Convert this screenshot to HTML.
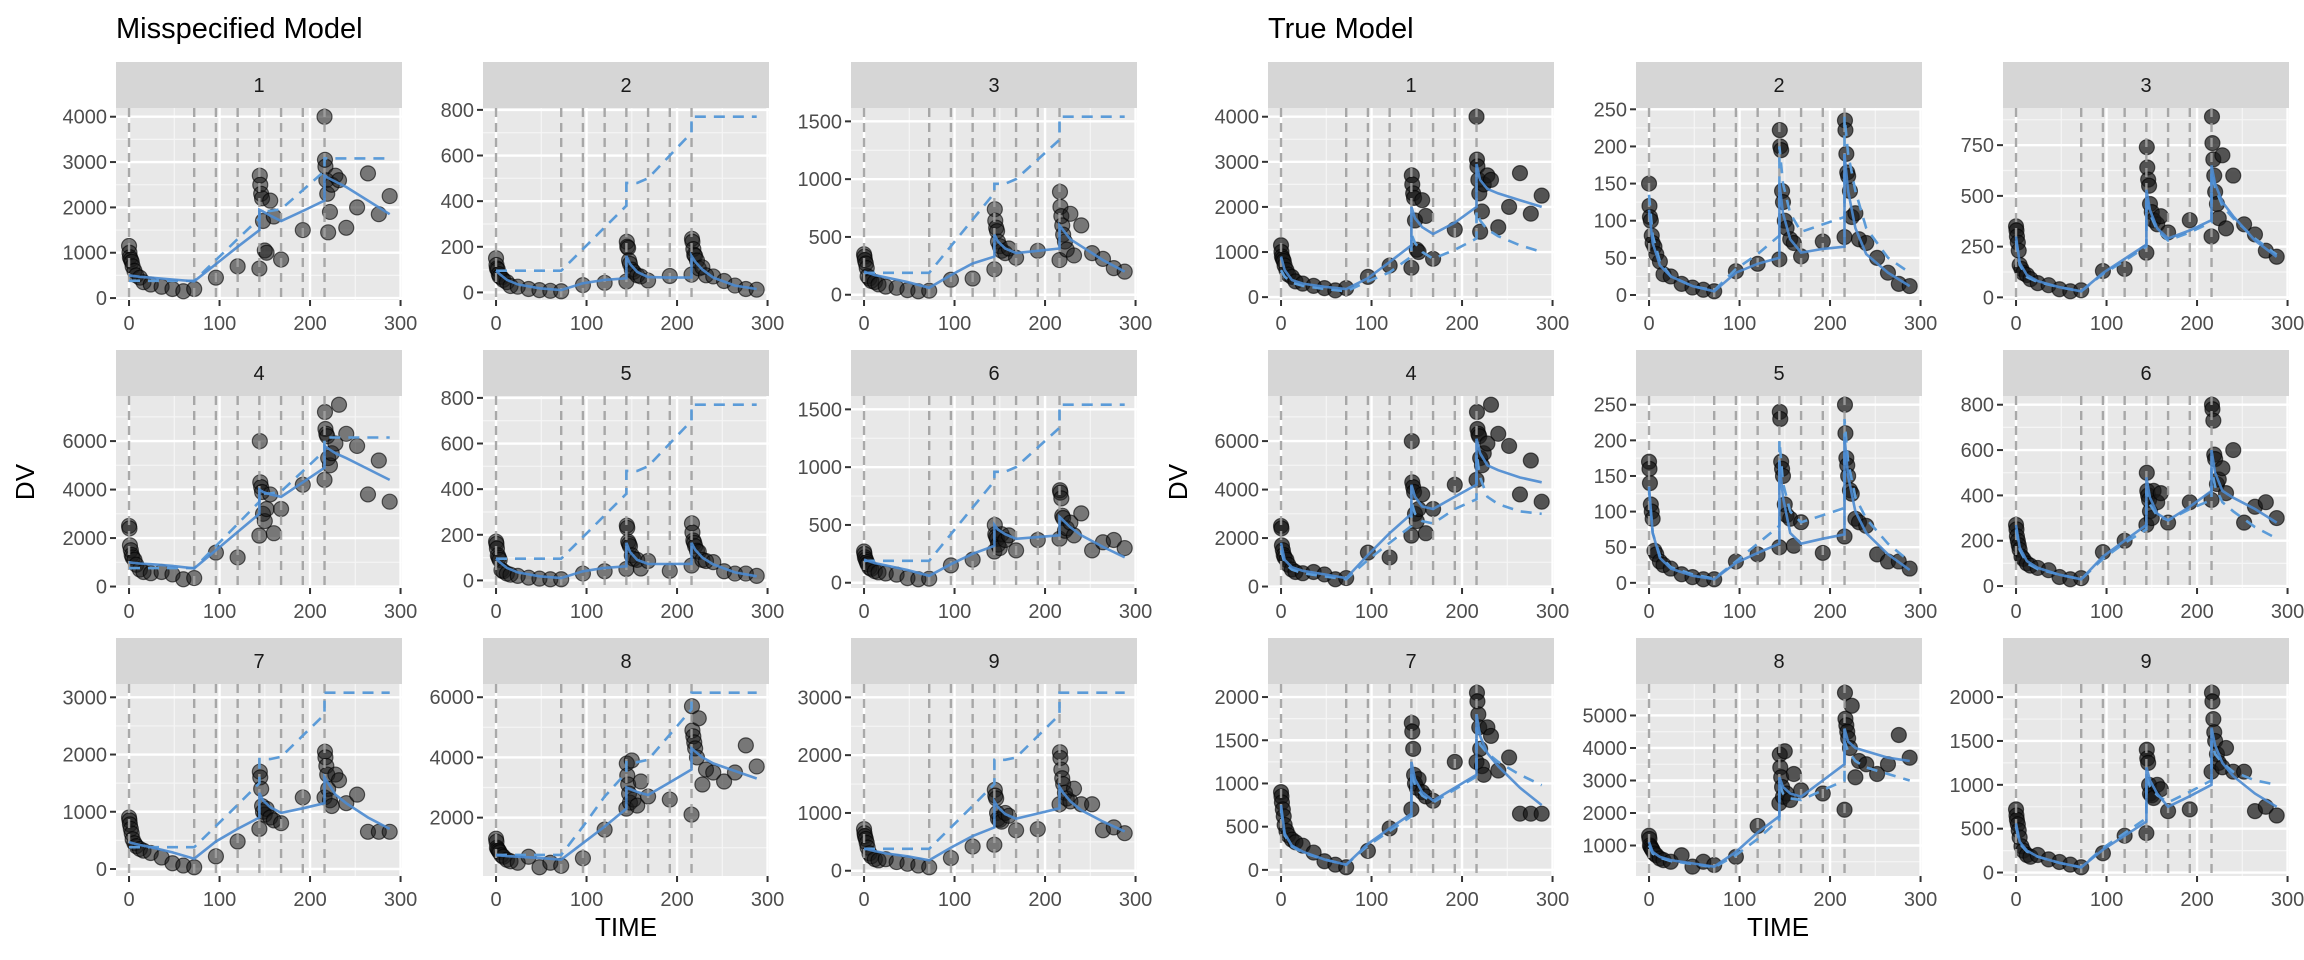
<!DOCTYPE html>
<html><head><meta charset="utf-8"><style>
html,body{margin:0;padding:0;background:#fff;}
svg{display:block;font-family:"Liberation Sans",Arial,sans-serif;}
</style></head><body>
<svg id="chart" width="2304" height="960" viewBox="0 0 2304 960" xmlns="http://www.w3.org/2000/svg">
<rect x="0" y="0" width="2304" height="960" fill="#ffffff"/>
<text x="116" y="38" font-size="29" fill="#000">Misspecified Model</text>
<text x="1268" y="38" font-size="29" fill="#000">True Model</text>
<text x="0" y="0" font-size="26" fill="#000" text-anchor="middle" transform="translate(34,482) rotate(-90)">DV</text>
<text x="0" y="0" font-size="26" fill="#000" text-anchor="middle" transform="translate(1187,482) rotate(-90)">DV</text>
<text x="626" y="936" font-size="26" fill="#000" text-anchor="middle">TIME</text>
<text x="1778" y="936" font-size="26" fill="#000" text-anchor="middle">TIME</text>
</svg>
<script>
const times = [0,0.5,1,2,3,4,6,8,12,16,24,36,48,60,72,96,120,144,144.5,145,146,147,148,150,152,156,160,168,192,216,216.5,217,218,219,220,222,224,228,232,240,252,264,276,288];
const doseTimes = [0,72,96,120,144,168,192,216];
const lineTimes = [0,4,12,24,48,72,96,120,144,144,148,156,168,192,216,216,220,228,240,264,288];
const xTicks = [0,100,200,300];
const xMinor = [50,150,250];

const dv1 = [1150,1000,900,850,800,700,600,500,450,350,300,250,200,150,200,450,700,650,2700,2500,2300,2200,1700,1050,1000,2150,1800,850,1500,4000,3050,2900,2600,2300,1450,1900,2500,2700,2600,1550,2000,2750,1850,2250];
const dv2 = [150,120,105,100,80,70,65,55,45,28,25,15,10,7,5,32,42,48,222,200,195,140,125,100,90,75,70,52,72,78,235,222,190,165,160,140,105,110,75,70,50,30,15,12];
const dv3 = [350,330,300,270,230,160,140,120,110,90,70,60,40,30,35,130,140,220,740,640,580,550,460,420,380,360,400,320,380,300,890,760,680,600,520,460,390,700,340,600,360,310,230,200];
const dv4 = [2500,2400,1700,1500,1300,1200,1100,900,700,600,550,600,500,300,350,1400,1200,2100,6000,4300,4100,3900,3000,2700,3200,3800,2200,3200,4200,4400,7200,6500,6300,6200,5300,5000,5500,5900,7500,6300,5800,3800,5200,3500];
const dv5 = [170,160,140,110,100,90,45,40,30,25,20,12,8,5,5,30,40,50,240,230,170,160,150,110,95,90,52,85,42,65,250,210,175,165,150,130,125,90,85,80,40,30,30,20];
const dv6 = [270,250,220,200,180,160,130,120,100,90,80,70,40,30,35,150,200,270,500,420,400,380,330,300,420,370,410,280,370,380,800,780,730,580,560,450,470,520,410,600,280,350,370,300];
const dv7 = [900,850,780,700,620,520,450,400,350,320,280,200,100,60,30,220,480,700,1700,1600,1400,1100,1000,950,1050,900,850,800,1250,1250,2050,1950,1800,1650,1400,1200,1100,1650,1550,1150,1300,650,650,650];
const dv8 = [1300,1200,1000,950,900,850,750,700,600,550,500,700,350,500,400,650,1600,2300,3800,3400,3100,2800,2500,3900,2600,2400,3200,2700,2600,2100,5700,4900,4700,4500,4300,4000,5300,3100,3600,3500,3200,3500,4400,3700];
const dv9 = [720,650,600,550,480,400,300,250,200,180,200,150,120,90,60,220,420,450,1400,1300,1250,1000,900,880,850,1000,950,700,720,1150,2050,1950,1750,1600,1500,1350,1250,1200,1420,1150,1150,700,750,650];

const misIpred1 = [500,490,470,450,410,370,750,1130,1500,1950,1910,1820,1700,1920,2150,2700,2650,2570,2450,2150,1850];
const misIpred2 = [95,80,55,35,18,10,40,55,62,160,125,90,67,65,66,160,135,100,65,30,15];
const misIpred3 = [200,190,170,150,110,60,170,270,330,520,460,400,360,380,400,600,560,480,420,300,200];
const misIpred4 = [1000,980,950,920,850,750,1500,2250,3000,4000,3900,3800,3700,4300,4900,5800,5700,5500,5300,4850,4400];
const misIpred5 = [95,80,55,35,18,10,40,55,62,165,125,90,72,72,73,165,135,100,70,35,18];
const misIpred6 = [200,190,170,150,110,60,160,250,320,500,460,420,380,395,410,570,540,480,410,310,220];
const misIpred7 = [470,450,420,380,290,180,480,700,900,1330,1200,1080,980,1060,1150,1600,1500,1300,1150,900,700];
const misIpred8 = [750,740,720,700,660,600,1150,1700,2300,3000,2950,2850,2750,3170,3600,4300,4200,4000,3800,3550,3300];
const misIpred9 = [380,370,340,300,250,180,400,600,750,1200,1100,980,900,990,1080,1450,1350,1200,1050,850,680];

const misPred1 = [380,380,380,380,380,380,840,1300,1760,1920,1920,1920,1960,2380,2800,3080,3080,3080,3080,3080,3080];
const misPred2 = [95,95,95,95,95,95,190,285,380,480,480,480,500,600,700,770,770,770,770,770,770];
const misPred3 = [190,190,190,190,190,190,420,650,880,960,960,960,1000,1170,1340,1540,1540,1540,1540,1540,1540];
const misPred4 = [760,760,760,760,760,760,1670,2580,3500,3840,3840,3840,3920,4760,5600,6150,6150,6150,6150,6150,6150];
const misPred5 = [95,95,95,95,95,95,190,285,380,480,480,480,500,600,700,770,770,770,770,770,770];
const misPred6 = [190,190,190,190,190,190,420,650,880,960,960,960,1000,1170,1340,1540,1540,1540,1540,1540,1540];
const misPred7 = [380,380,380,380,380,380,750,1120,1500,1920,1920,1920,1960,2330,2700,3080,3080,3080,3080,3080,3080];
const misPred8 = [760,760,760,760,760,760,1700,2700,3500,3840,3840,3840,3920,4760,5600,6150,6150,6150,6150,6150,6150];
const misPred9 = [380,380,380,380,380,380,750,1120,1500,1920,1920,1920,1960,2330,2700,3080,3080,3080,3080,3080,3080];

const trueIpred1 = [900,600,380,300,230,180,420,780,1150,2000,1750,1550,1400,1650,2000,2950,2600,2400,2300,2150,2000];
const trueIpred2 = [115,70,40,25,12,5,30,42,50,150,110,75,57,62,65,190,140,90,55,30,12];
const trueIpred3 = [300,170,110,80,50,30,120,190,260,530,430,340,290,330,380,650,560,470,400,280,200];
const trueIpred4 = [1800,1100,800,650,500,350,1300,2200,3000,4200,3700,3300,3200,3700,4200,6100,5500,5000,4800,4500,4300];
const trueIpred5 = [135,70,35,20,10,5,28,42,55,170,120,70,55,62,68,205,150,100,70,40,18];
const trueIpred6 = [270,170,110,80,50,30,130,200,270,480,390,320,290,350,420,600,500,420,390,340,280];
const trueIpred7 = [750,420,280,210,120,60,300,480,650,1250,1050,900,800,950,1100,1800,1550,1350,1200,950,750];
const trueIpred8 = [1100,800,650,550,450,350,800,1400,1900,3100,2800,2600,2500,3000,3500,4600,4200,4000,3900,3700,3600];
const trueIpred9 = [560,350,250,180,110,60,260,420,580,1200,1050,900,750,870,1000,1650,1450,1250,1100,900,750];

const truePred1 = [600,450,320,250,180,130,350,550,900,1400,1200,1000,850,1050,1300,1900,1700,1500,1350,1150,1000];
const truePred2 = [135,80,45,25,12,6,35,55,80,200,150,110,85,95,105,240,190,140,90,50,30];
const truePred3 = [280,160,100,75,50,30,115,180,250,500,410,330,280,320,370,620,540,450,390,290,210];
const truePred4 = [1500,950,700,550,420,300,1100,1800,2500,3500,3000,2700,2600,3200,3600,5500,4500,3700,3400,3100,3000];
const truePred5 = [130,70,38,22,12,6,30,55,80,200,140,100,85,95,105,230,170,120,90,55,30];
const truePred6 = [250,160,100,75,50,30,120,190,250,420,360,310,290,340,380,520,440,370,330,260,210];
const truePred7 = [700,400,270,200,120,60,280,450,620,1150,980,860,780,930,1080,1650,1450,1350,1250,1100,980];
const truePred8 = [1000,750,620,520,430,330,700,1200,1800,2900,2600,2450,2400,2700,3000,4200,3900,3600,3400,3200,3000];
const truePred9 = [520,330,240,180,110,60,280,450,620,1100,980,880,800,920,1050,1500,1350,1250,1150,1050,1000];

const misTicks1 = [0,1000,2000,3000,4000];
const misTicks2 = [0,200,400,600,800];
const misTicks3 = [0,500,1000,1500];
const misTicks4 = [0,2000,4000,6000];
const misTicks5 = [0,200,400,600,800];
const misTicks6 = [0,500,1000,1500];
const misTicks7 = [0,1000,2000,3000];
const misTicks8 = [0,2000,4000,6000];
const misTicks9 = [0,1000,2000,3000];
const trueTicks1 = [0,1000,2000,3000,4000];
const trueTicks2 = [0,50,100,150,200,250];
const trueTicks3 = [0,250,500,750];
const trueTicks4 = [0,2000,4000,6000];
const trueTicks5 = [0,50,100,150,200,250];
const trueTicks6 = [0,200,400,600,800];
const trueTicks7 = [0,500,1000,1500,2000];
const trueTicks8 = [0,1000,2000,3000,4000,5000];
const trueTicks9 = [0,500,1000,1500,2000];

const panelIds = ["1","2","3","4","5","6","7","8","9"];
const dvs = [dv1,dv2,dv3,dv4,dv5,dv6,dv7,dv8,dv9];
const misIpreds = [misIpred1,misIpred2,misIpred3,misIpred4,misIpred5,misIpred6,misIpred7,misIpred8,misIpred9];
const misPreds = [misPred1,misPred2,misPred3,misPred4,misPred5,misPred6,misPred7,misPred8,misPred9];
const trueIpreds = [trueIpred1,trueIpred2,trueIpred3,trueIpred4,trueIpred5,trueIpred6,trueIpred7,trueIpred8,trueIpred9];
const truePreds = [truePred1,truePred2,truePred3,truePred4,truePred5,truePred6,truePred7,truePred8,truePred9];
const misTicks = [misTicks1,misTicks2,misTicks3,misTicks4,misTicks5,misTicks6,misTicks7,misTicks8,misTicks9];
const trueTicks = [trueTicks1,trueTicks2,trueTicks3,trueTicks4,trueTicks5,trueTicks6,trueTicks7,trueTicks8,trueTicks9];

const NS = "http://www.w3.org/2000/svg";
const svg = document.getElementById("chart");
function mk(tag, attrs, parent){
  const e = document.createElementNS(NS, tag);
  for (const k in attrs) e.setAttribute(k, attrs[k]);
  (parent||svg).appendChild(e);
  return e;
}
const PW = 286, PH = 192, SH = 46;
const XLO = -14.4, XHI = 301.6;
const groups = [
  {key:"misspecified", cols:[116,483,851], ipreds:misIpreds, preds:misPreds, ticks:misTicks, alpha:0.55},
  {key:"true", cols:[1268,1636,2003], ipreds:trueIpreds, preds:truePreds, ticks:trueTicks, alpha:0.72}
];
const rowTops = [62,350,638];

groups.forEach(function(g){
  for (let i=0;i<9;i++){
    const r = Math.floor(i/3), c = i%3;
    const x0 = g.cols[c], st = rowTops[r], y0 = st+SH;
    const grp = mk("g", {});
    
    
    const xs = function(t){ return x0 + (t - XLO)/(XHI - XLO)*PW; };
    const dv = dvs[i], ip = g.ipreds[i], pr = g.preds[i];
    let mn = Infinity, mx = -Infinity;
    [dv, ip, pr].forEach(function(a){ a.forEach(function(v){ if(v<mn)mn=v; if(v>mx)mx=v; }); });
    const pad = (mx-mn)*0.05, lo = mn-pad, hi = mx+pad;
    const ys = function(v){ return y0 + PH - (v-lo)/(hi-lo)*PH; };
    const strip = mk("rect", {x:x0, y:st, width:PW, height:SH, fill:"#d6d6d6"}, grp);
    
    
    const stxt = mk("text", {x:x0+PW/2, y:st+30, "font-size":"20", fill:"#1a1a1a", "text-anchor":"middle"}, grp);
    stxt.textContent = panelIds[i];
    
    
    const bg = mk("rect", {x:x0, y:y0, width:PW, height:PH, fill:"#e8e8e8"}, grp);
    
    
    const ticks = g.ticks[i].filter(function(v){ return v>=lo && v<=hi; });
    const step = g.ticks[i][1]-g.ticks[i][0];
    for (let v = g.ticks[i][0]-step/2; v <= hi; v += step){
      if (v < lo) continue;
      const gl = mk("line", {x1:x0, x2:x0+PW, y1:ys(v), y2:ys(v), stroke:"#f5f5f5", "stroke-width":"1.2"}, grp);
      
      
    }
    xMinor.forEach(function(t){
      const gl = mk("line", {x1:xs(t), x2:xs(t), y1:y0, y2:y0+PH, stroke:"#f5f5f5", "stroke-width":"1.2"}, grp);
      
      
    });
    ticks.forEach(function(v){
      const gl = mk("line", {x1:x0, x2:x0+PW, y1:ys(v), y2:ys(v), stroke:"#ffffff", "stroke-width":"2.4"}, grp);
      
      
      const tk = mk("line", {x1:x0-6, x2:x0, y1:ys(v), y2:ys(v), stroke:"#333", "stroke-width":"2"}, grp);
      
      
      const tl = mk("text", {x:x0-9, y:ys(v)+7, "font-size":"20", fill:"#4d4d4d", "text-anchor":"end"}, grp);
      tl.textContent = String(v);
      
      
    });
    xTicks.forEach(function(t){
      const gl = mk("line", {x1:xs(t), x2:xs(t), y1:y0, y2:y0+PH, stroke:"#ffffff", "stroke-width":"2.4"}, grp);
      
      
      const tk = mk("line", {x1:xs(t), x2:xs(t), y1:y0+PH, y2:y0+PH+6, stroke:"#333", "stroke-width":"2"}, grp);
      
      
      const tl = mk("text", {x:xs(t), y:y0+PH+30, "font-size":"20", fill:"#4d4d4d", "text-anchor":"middle"}, grp);
      tl.textContent = String(t);
      
      
    });
    dv.forEach(function(v, k){
      const p = mk("circle", {cx:xs(times[k]), cy:ys(v), r:"7.5", fill:"rgba(25,25,25,"+g.alpha+")", stroke:"rgba(0,0,0,0.6)", "stroke-width":"1.2"}, grp);
      
      
    });
    doseTimes.forEach(function(t){
      const dl = mk("line", {x1:xs(t), x2:xs(t), y1:y0, y2:y0+PH, stroke:"rgba(160,160,160,0.9)", "stroke-width":"2.4", "stroke-dasharray":"9,6"}, grp);
      
      
    });
    const ptsI = ip.map(function(v,k){ return xs(lineTimes[k]).toFixed(1)+","+ys(v).toFixed(1); }).join(" ");
    const ptsP = pr.map(function(v,k){ return xs(lineTimes[k]).toFixed(1)+","+ys(v).toFixed(1); }).join(" ");
    const lp = mk("polyline", {points:ptsP, fill:"none", stroke:"#5b9bd8", "stroke-width":"2.6", "stroke-dasharray":"11,8"}, grp);
    
    
    const li = mk("polyline", {points:ptsI, fill:"none", stroke:"#4a8ad0", "stroke-width":"2.6", "stroke-opacity":"0.9"}, grp);
    
    
  }
});
</script>
</body></html>
